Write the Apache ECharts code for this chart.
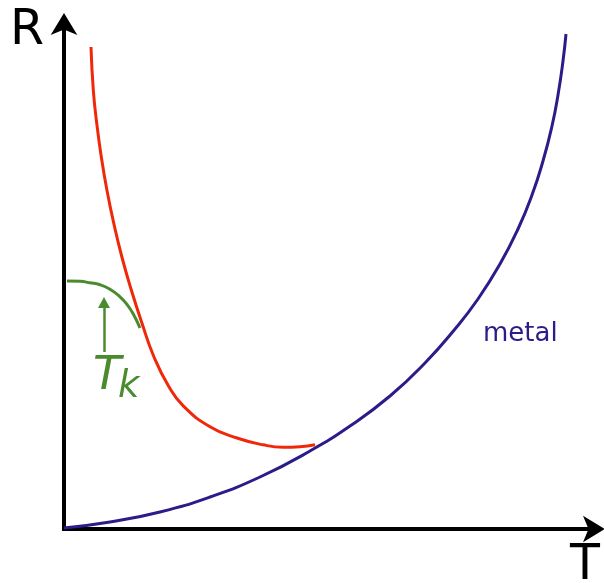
<!DOCTYPE html>
<html>
<head>
<meta charset="utf-8">
<script src="https://cdn.jsdelivr.net/npm/echarts@6/dist/echarts.min.js"></script>
<style>
  html, body { margin: 0; padding: 0; background: #fff; }
  #chart { width: 604px; height: 583px; }
</style>
</head>
<body>
<div id="chart"></div>
<script>
// Resistance R against temperature T (arbitrary units, origin at the axes corner).

// Ordinary metal: R rises steadily with T.
const metalT = [0, 46, 96, 146, 196, 246, 286, 326, 361, 391, 414, 436, 454, 468, 479, 488, 494, 499, 502];
const metalR = [1, 7, 17, 32, 52, 78, 103, 133, 166, 200, 230, 265, 300, 334, 368, 403, 434, 468, 495];

// Curve with the low-temperature upturn, joining the metal curve near its minimum.
const upturnT = [27, 29.3, 32.7, 37.3, 42.9, 49.7, 57.9, 67.3, 77.9, 90, 104.5, 119, 146, 173, 199, 219, 236, 251];
const upturnR = [482, 439, 406, 372, 339, 306, 272, 239, 206, 172, 143, 123.4, 102.3, 91, 84.2, 81.8, 82.3, 84.3];

// Green arc below T_k.
const arcT = [3, 16, 26, 36, 46, 56, 63, 69, 76];
const arcR = [248, 247.7, 246.2, 244.2, 239.7, 232.2, 224.5, 215.5, 201];

// Arrow pointing up to the arc at T_k.
const tkArrowT = 40;
const tkArrowR = [177, 226.5];

// Axis extents.
const tMax = 533;
const rMax = 508;

const BLUE = '#2c1c8a';
const RED = '#f0280a';
const GREEN = '#4b8b2f';
const FONT = '"DejaVu Sans", Verdana, sans-serif';

const pairs = (xs, ys) => xs.map((x, i) => [x, ys[i]]);

const chart = echarts.init(document.getElementById('chart'), null, { renderer: 'canvas' });

// Axis lines end in a solid arrowhead pushed a little past the plot edge.
const axisLine = {
  show: true,
  symbol: ['none', 'arrow'],
  symbolSize: [20, 22],
  symbolOffset: [0, 8],
  lineStyle: { color: '#000', width: 4, cap: 'square' }
};

chart.setOption({
  animation: false,
  backgroundColor: '#fff',
  grid: { left: 64, right: 7, top: 21, bottom: 54, containLabel: false },
  xAxis: {
    type: 'value', min: 0, max: tMax,
    axisLine: axisLine,
    axisTick: { show: false }, axisLabel: { show: false }, splitLine: { show: false }
  },
  yAxis: {
    type: 'value', min: 0, max: rMax,
    axisLine: axisLine,
    axisTick: { show: false }, axisLabel: { show: false }, splitLine: { show: false }
  },
  series: [
    {
      name: 'metal', type: 'line', data: pairs(metalT, metalR),
      smooth: 0.5, showSymbol: false, silent: true,
      lineStyle: { color: BLUE, width: 3 }
    },
    {
      name: 'upturn', type: 'line', data: pairs(upturnT, upturnR),
      smooth: 0.5, showSymbol: false, silent: true,
      lineStyle: { color: RED, width: 3 }
    },
    {
      name: 'arc', type: 'line', data: pairs(arcT, arcR),
      smooth: 0.5, showSymbol: false, silent: true,
      lineStyle: { color: GREEN, width: 3 },
      markLine: {
        silent: true,
        symbol: ['none', 'triangle'],
        symbolSize: [12, 11],
        label: { show: false },
        lineStyle: { color: GREEN, width: 2.5, type: 'solid' },
        data: [[{ coord: [tkArrowT, tkArrowR[0]] }, { coord: [tkArrowT, tkArrowR[1]] }]]
      }
    }
  ],
  graphic: [
    {
      type: 'text', x: 27, y: 31,
      style: { text: 'R', font: '49px ' + FONT, fill: '#000', align: 'center', verticalAlign: 'middle' }
    },
    {
      type: 'text', x: 585, y: 566,
      style: { text: 'T', font: '49px ' + FONT, fill: '#000', align: 'center', verticalAlign: 'middle' }
    },
    {
      type: 'text', x: 483, y: 334,
      style: { text: 'metal', font: '26px ' + FONT, fill: BLUE, align: 'left', verticalAlign: 'middle' }
    },
    {
      type: 'text', x: 93, y: 377,
      style: { text: 'T', font: 'oblique 46px ' + FONT, fill: GREEN, align: 'left', verticalAlign: 'middle' }
    },
    {
      type: 'text', x: 118, y: 387,
      style: { text: 'k', font: 'oblique 37px ' + FONT, fill: GREEN, align: 'left', verticalAlign: 'middle' }
    }
  ]
});
</script>
</body>
</html>
